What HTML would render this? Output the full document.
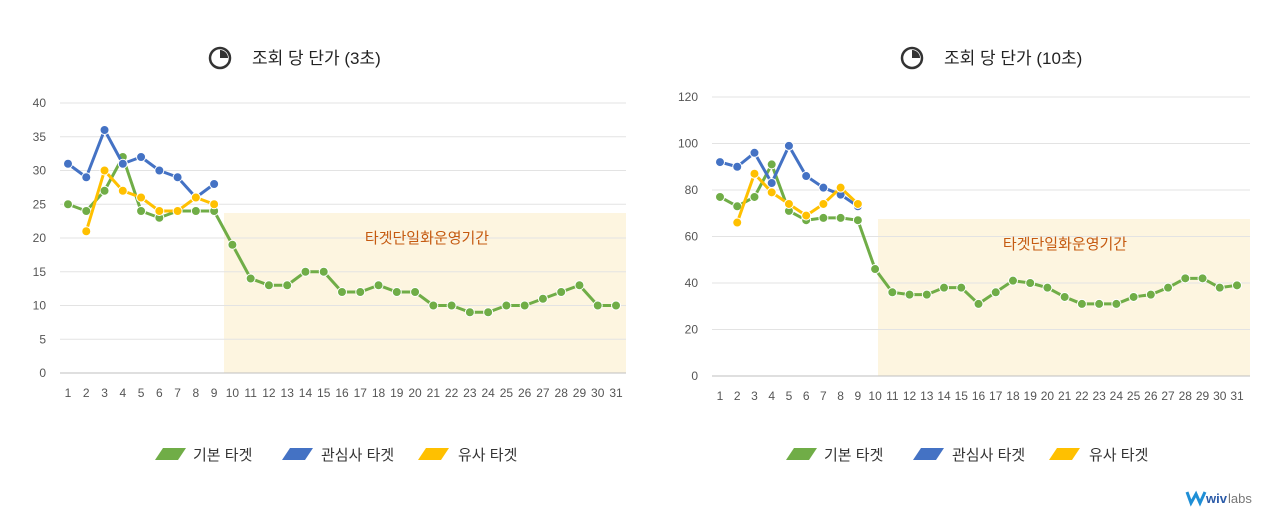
<!DOCTYPE html>
<html><head><meta charset="utf-8">
<style>
html,body{margin:0;padding:0;background:#fff;}
body{width:1280px;height:518px;overflow:hidden;font-family:"Liberation Sans","Noto Sans CJK KR",sans-serif;}
svg text{font-family:"Liberation Sans","Noto Sans CJK KR",sans-serif;}
</style></head>
<body>
<svg id="root" width="1280" height="518"></svg>
<script>
const days = Array.from({length:31},(_,i)=>String(i+1));
const leftTicks = [0,5,10,15,20,25,30,35,40];
const leftBasic = [25,24,27,32,24,23,24,24,24,19,14,13,13,15,15,12,12,13,12,12,10,10,9,9,10,10,11,12,13,10,10];
const leftInterest = [31,29,36,31,32,30,29,26,28];
const leftSimilar = [null,21,30,27,26,24,24,26,25];
const rightTicks = [0,20,40,60,80,100,120];
const rightBasic = [77,73,77,91,71,67,68,68,67,46,36,35,35,38,38,31,36,41,40,38,34,31,31,31,34,35,38,42,42,38,39];
const rightInterest = [92,90,96,83,99,86,81,78,73];
const rightSimilar = [null,66,87,79,74,69,74,81,74];

const NS="http://www.w3.org/2000/svg";
const root=document.getElementById('root');
function mk(tag,attrs,parent,text){const e=document.createElementNS(NS,tag);for(const k in attrs)e.setAttribute(k,attrs[k]);if(text!==undefined)e.textContent=text;(parent||root).appendChild(e);return e;}

function chart(cfg){
  const g=mk('g',{});
  
  
  const max=cfg.ticks[cfg.ticks.length-1];
  const yS=v=>cfg.y0-(v/max)*(cfg.y0-cfg.yTop);
  const xS=i=>cfg.x1+i*(cfg.xN-cfg.x1)/30;
  const sh=mk('rect',{x:cfg.shadeX,y:cfg.shadeY,width:cfg.gridR-cfg.shadeX,height:cfg.y0-cfg.shadeY,fill:'#fdf5e0'},g);
  
  
  cfg.ticks.forEach(t=>{
    mk('line',{x1:cfg.gridL,x2:cfg.gridR,y1:yS(t),y2:yS(t),stroke:t===0?'#bfbfbf':'#e3e3e3','stroke-width':1},g);
    const tl=mk('text',{x:cfg.gridL-14,y:yS(t)+4,'text-anchor':'end','font-size':12,fill:'#555'},g,String(t));
    
    
  });
  days.forEach((d,i)=>{
    const tl=mk('text',{x:xS(i),y:cfg.y0+24,'text-anchor':'middle','font-size':12,fill:'#555'},g,d);
    
    
  });
  const st=mk('text',{x:cfg.shadeLabelX,y:cfg.shadeY+30,'text-anchor':'middle','font-size':15,fill:'#c55a11'},g,'타겟단일화운영기간');
  
  
  const series=[[cfg.basic,'#70ad47','basic-target-series'],[cfg.interest,'#4472c4','interest-target-series'],[cfg.similar,'#ffc000','similar-target-series']];
  series.forEach(([arr,col,nm])=>{
    const sg=mk('g',{},g);
    
    
    let d='';
    arr.forEach((v,i)=>{if(v==null)return;d+=(d?'L':'M')+xS(i)+','+yS(v);});
    mk('path',{d:d,fill:'none',stroke:col,'stroke-width':3,'stroke-linejoin':'round'},sg);
    arr.forEach((v,i)=>{if(v==null)return;
      const c=mk('circle',{cx:xS(i),cy:yS(v),r:4.5,fill:col,stroke:'#fff','stroke-width':1},sg);
      
      
    });
  });
  const tg=mk('g',{},g);
  
  
  mk('circle',{cx:cfg.iconX,cy:58,r:10,fill:'#fff',stroke:'#333','stroke-width':2.5},tg);
  mk('path',{d:`M${cfg.iconX},58 L${cfg.iconX},50 A8,8 0 0 1 ${cfg.iconX+8},58 Z`,fill:'#333'},tg);
  mk('text',{x:cfg.iconX+32,y:64,'font-size':17,fill:'#222'},tg,cfg.title);
  const lg=mk('g',{},g);
  
  
  [['#70ad47','기본 타겟',0,38],['#4472c4','관심사 타겟',127,39],['#ffc000','유사 타겟',263,40]].forEach(([c,l,dx,tx])=>{
    const x=cfg.legX+dx;
    const e=mk('g',{},lg);
    
    
    mk('path',{d:`M${x},460 L${x+8},448 L${x+31},448 L${x+23},460 Z`,fill:c},e);
    mk('text',{x:x+tx,y:460,'font-size':15,fill:'#333'},e,l);
  });
}
chart({name:'chart-3s',title:'조회 당 단가 (3초)',ticks:leftTicks,y0:373,yTop:103,x1:68,xN:616,gridL:60,gridR:626,shadeX:224,shadeY:213,shadeLabelX:427,basic:leftBasic,interest:leftInterest,similar:leftSimilar,iconX:220,legX:155});
chart({name:'chart-10s',title:'조회 당 단가 (10초)',ticks:rightTicks,y0:376,yTop:97,x1:720,xN:1237,gridL:712,gridR:1250,shadeX:878,shadeY:219,shadeLabelX:1065,basic:rightBasic,interest:rightInterest,similar:rightSimilar,iconX:912,legX:786});
const logo=mk('g',{});


mk('path',{d:'M1187,492 L1191,503 L1196,494 L1200,503 L1205,492',fill:'none',stroke:'#1f8fd6','stroke-width':3},logo);
mk('text',{x:1206,y:503,'font-size':13,fill:'#2a5aa8','font-weight':'bold'},logo,'wiv');
mk('text',{x:1228,y:503,'font-size':13,fill:'#777'},logo,'labs');
</script>
</body></html>
